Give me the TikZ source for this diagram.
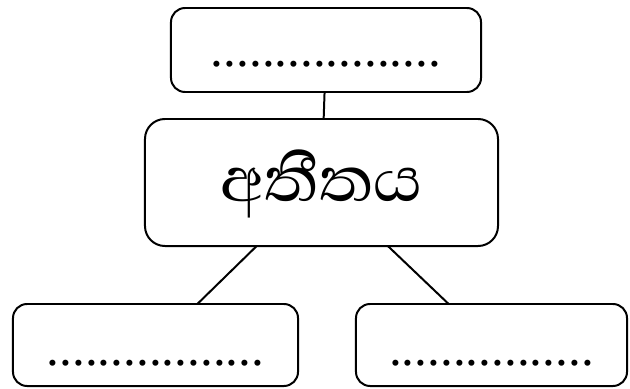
\documentclass[tikz,border=0pt]{standalone}
\usepackage{fontspec}
\newfontfamily\sinhalafont[Script=Sinhala]{Abhaya Libre}
\newfontfamily\dotfont{Liberation Serif}
\tikzset{
    slot/.style={draw, line width=1.7pt, rounded corners=12pt,
        inner sep=0pt, outer sep=0pt, minimum height=2.46cm,
        font=\dotfont\fontsize{43.7}{44}\selectfont,
        text height=35pt, text depth=0pt},
    hub/.style={draw, line width=1.7pt, rounded corners=17pt,
        inner sep=0pt, outer sep=0pt,
        minimum width=10.59cm, minimum height=3.81cm,
        font=\sinhalafont\fontsize{69}{75}\selectfont,
        text height=33pt, text depth=0pt}
}
\begin{document}
\begin{tikzpicture}[x=0.03cm, y=-0.03cm]
    \useasboundingbox (0,0) rectangle (630,389);
    \node[slot, minimum width=9.3cm, minimum height=2.52cm, text height=29pt] (above) at (326,50) {..................};
    \node[hub] (past) at (321.5,182.5) {අතීතය};
    \node[slot, minimum width=8.55cm] (leftbox) at (155.5,345) {.................};
    \node[slot, minimum width=8.13cm] (rightbox) at (491.5,345) {................};
    \draw[line width=1.7pt] (above) -- (past);
    \draw[line width=1.7pt] (past) -- (leftbox);
    \draw[line width=1.7pt] (past) -- (rightbox);
\end{tikzpicture}
\end{document}
